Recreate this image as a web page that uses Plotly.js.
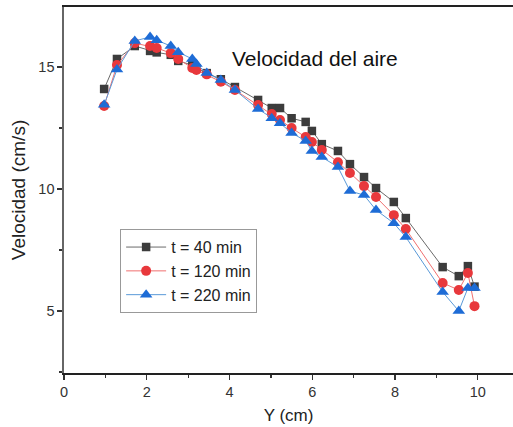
<!DOCTYPE html>
<html>
<head>
<meta charset="utf-8">
<script src="https://cdn.plot.ly/plotly-3.0.1.min.js"></script>
<style>html,body{margin:0;padding:0;background:#fff;}#chart{width:513px;height:427px;}</style>
</head>
<body>
<div id="chart"></div>
<script>
const yPos = [0.97, 1.28, 1.71, 2.08, 2.24, 2.58, 2.76, 3.10, 3.20, 3.45, 3.79, 4.13, 4.69, 5.02, 5.22, 5.50, 5.84, 5.99, 6.23, 6.62, 6.91, 7.25, 7.54, 7.97, 8.26, 9.15, 9.54, 9.76, 9.92];
const v40  = [14.10, 15.33, 15.86, 15.66, 15.60, 15.50, 15.25, 15.08, 14.95, 14.75, 14.50, 14.18, 13.65, 13.32, 13.32, 12.90, 12.75, 12.38, 11.84, 11.56, 11.02, 10.49, 10.04, 9.47, 8.81, 6.80, 6.43, 6.84, 6.00];
const v120 = [13.40, 15.08, 15.98, 15.86, 15.78, 15.57, 15.33, 14.96, 14.88, 14.70, 14.40, 14.06, 13.44, 13.07, 12.83, 12.50, 12.13, 11.93, 11.60, 11.10, 10.66, 10.12, 9.67, 8.93, 8.36, 6.15, 5.86, 6.56, 5.20];
const v220 = [13.45, 14.90, 16.07, 16.23, 16.10, 15.86, 15.61, 15.33, 15.12, 14.75, 14.47, 14.06, 13.28, 12.90, 12.70, 12.30, 11.97, 11.56, 11.31, 10.90, 9.92, 9.75, 9.14, 8.60, 8.03, 5.78, 5.00, 5.94, 5.94];
const seriesNames = ["t = 40 min", "t = 120 min", "t = 220 min"];

const traces = [
  {x: yPos, y: v40, name: seriesNames[0], mode: "lines+markers", type: "scatter",
   line: {color: "#6a6a6a", width: 1},
   marker: {symbol: "square", size: 8.5, color: "#3c3c3c"}},
  {x: yPos, y: v120, name: seriesNames[1], mode: "lines+markers", type: "scatter",
   line: {color: "#f07070", width: 1},
   marker: {symbol: "circle", size: 10, color: "#e8383c"}},
  {x: yPos, y: v220, name: seriesNames[2], mode: "lines+markers", type: "scatter",
   line: {color: "#5a9ad8", width: 1},
   marker: {symbol: "triangle-up", size: 11, color: "#1e6cd6"}}
];

const layout = {
  width: 513, height: 427,
  margin: {l: 64, r: 0, t: 7, b: 54},
  paper_bgcolor: "#fff", plot_bgcolor: "#fff",
  font: {family: "Liberation Sans, Arial, sans-serif", size: 14, color: "#333"},
  showlegend: true,
  legend: {x: 0.125, y: 0.393, xanchor: "left", yanchor: "top",
    bordercolor: "#999", borderwidth: 1, bgcolor: "#fff",
    font: {size: 16, color: "#222"}, tracegroupgap: 0, itemwidth: 40},
  xaxis: {range: [0, 10.85], tick0: 0, dtick: 2, ticks: "outside", ticklen: 5, tickwidth: 1.2,
    tickcolor: "#333", showgrid: false, zeroline: false, showline: true, linecolor: "#222", linewidth: 1.6,
    mirror: true,
    minor: {ticks: "outside", ticklen: 3, dtick: 1, tick0: 0, tickcolor: "#333", showgrid: false},
    title: {text: "Y (cm)", font: {size: 17, color: "#222"}, standoff: 10},
    tickfont: {size: 14.5, color: "#333"}},
  yaxis: {range: [2.46, 17.46], tick0: 5, dtick: 5, ticks: "outside", ticklen: 5, tickwidth: 1.2,
    tickcolor: "#333", showgrid: false, zeroline: false, showline: true, linecolor: "#666", linewidth: 1.6,
    minor: {ticks: "outside", ticklen: 3, dtick: 2.5, tick0: 2.5, tickcolor: "#333", showgrid: false},
    title: {text: "Velocidad (cm/s)", font: {size: 19, color: "#222"}, standoff: 8},
    tickfont: {size: 14.5, color: "#333"}},
  annotations: [{text: "Velocidad del aire", xref: "paper", yref: "paper",
    x: (315 - 64) / 449, y: (373 - 58) / 366, xanchor: "center", yanchor: "middle",
    showarrow: false, font: {size: 21, color: "#111"}}]
};

Plotly.newPlot("chart", traces, layout, {displayModeBar: false, staticPlot: true});
</script>
</body>
</html>
